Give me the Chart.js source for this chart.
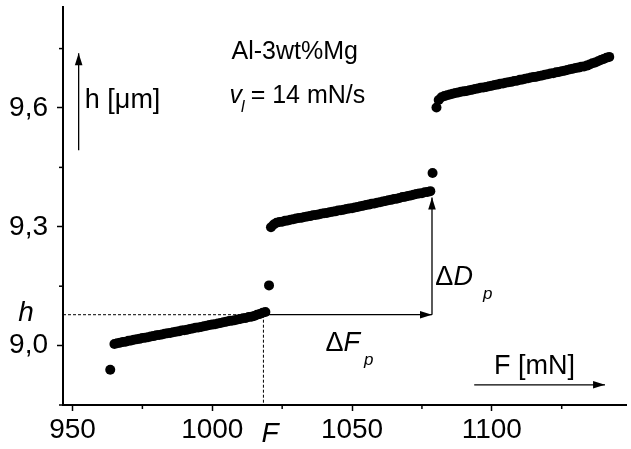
<!DOCTYPE html>
<html>
<head>
<meta charset="utf-8">
<script src="https://cdn.jsdelivr.net/npm/chart.js@4.4.1/dist/chart.umd.min.js"></script>
<style>
  html, body { margin: 0; padding: 0; background: #fff; }
  canvas { display: block; }
</style>
</head>
<body>
<canvas id="chart" width="631" height="449"></canvas>
<script>
// Pop-in steps of Al-3wt%Mg under constant loading rate: depth h [um] vs load F [mN].
// Three plateaus of dense points, plus the single transitional points between them.
var forceA = [965, 966, 967, 968, 969, 970, 971, 972, 973, 974, 975, 976, 977, 978, 979, 980,
  981, 982, 983, 984, 985, 986, 987, 988, 989, 990, 991, 992, 993, 994, 995, 996, 997, 998, 999,
  1000, 1001, 1002, 1003, 1004, 1005, 1006, 1007, 1008, 1009, 1010, 1011, 1012, 1013, 1014,
  1015, 1016, 1017, 1018, 1019];
var depthA = [9.004, 9.006, 9.007, 9.009, 9.010, 9.012, 9.013, 9.015, 9.016, 9.017, 9.019, 9.020,
  9.021, 9.023, 9.024, 9.026, 9.027, 9.028, 9.030, 9.031, 9.032, 9.034, 9.035, 9.036, 9.038,
  9.039, 9.040, 9.042, 9.043, 9.045, 9.046, 9.047, 9.049, 9.050, 9.052, 9.053, 9.054, 9.056,
  9.057, 9.059, 9.060, 9.062, 9.063, 9.064, 9.066, 9.067, 9.069, 9.070, 9.072, 9.073, 9.075,
  9.078, 9.080, 9.083, 9.085];

var forceB = [1021, 1022, 1023, 1024, 1025, 1026, 1027, 1028, 1029, 1030, 1031, 1032, 1033, 1034,
  1035, 1036, 1037, 1038, 1039, 1040, 1041, 1042, 1043, 1044, 1045, 1046, 1047, 1048, 1049, 1050,
  1051, 1052, 1053, 1054, 1055, 1056, 1057, 1058, 1059, 1060, 1061, 1062, 1063, 1064, 1065, 1066,
  1067, 1068, 1069, 1070, 1071, 1072, 1073, 1074, 1075, 1076, 1077, 1078];
var depthB = [9.299, 9.306, 9.310, 9.312, 9.313, 9.315, 9.316, 9.318, 9.319, 9.321, 9.322, 9.323,
  9.325, 9.326, 9.327, 9.329, 9.330, 9.331, 9.333, 9.334, 9.335, 9.337, 9.338, 9.339, 9.341,
  9.342, 9.343, 9.345, 9.346, 9.347, 9.349, 9.350, 9.352, 9.353, 9.355, 9.356, 9.358, 9.359,
  9.361, 9.362, 9.364, 9.365, 9.367, 9.368, 9.370, 9.371, 9.373, 9.375, 9.376, 9.378, 9.379,
  9.381, 9.383, 9.384, 9.385, 9.387, 9.388, 9.390];

var forceC = [1081, 1082, 1083, 1084, 1085, 1086, 1087, 1088, 1089, 1090, 1091, 1092, 1093, 1094,
  1095, 1096, 1097, 1098, 1099, 1100, 1101, 1102, 1103, 1104, 1105, 1106, 1107, 1108, 1109, 1110,
  1111, 1112, 1113, 1114, 1115, 1116, 1117, 1118, 1119, 1120, 1121, 1122, 1123, 1124, 1125, 1126,
  1127, 1128, 1129, 1130, 1131, 1132, 1133, 1134, 1135, 1136, 1137, 1138, 1139, 1140, 1141, 1142];
var depthC = [9.620, 9.627, 9.630, 9.632, 9.634, 9.636, 9.638, 9.639, 9.641, 9.642, 9.643, 9.645,
  9.646, 9.648, 9.649, 9.651, 9.652, 9.653, 9.655, 9.656, 9.658, 9.659, 9.661, 9.662, 9.664,
  9.665, 9.666, 9.668, 9.669, 9.671, 9.672, 9.674, 9.675, 9.677, 9.678, 9.679, 9.681, 9.682,
  9.684, 9.685, 9.687, 9.688, 9.690, 9.691, 9.693, 9.694, 9.696, 9.698, 9.699, 9.701, 9.702,
  9.704, 9.705, 9.707, 9.710, 9.713, 9.715, 9.718, 9.721, 9.724, 9.727, 9.729];

// lone points at the start and inside each pop-in
var forceLone = [963.5, 1020.3, 1078.8, 1080.2];
var depthLone = [8.939, 9.152, 9.436, 9.601];

// marked pop-in: level h at load F, then the step dF_p and dD_p
var hMark = 9.078, fMark = 1018.3, fStepEnd = 1078.6, hStepTop = 9.374;

var SANS = '"Liberation Sans", Arial, Helvetica, sans-serif';

function pts(fs, hs) { return fs.map(function (f, i) { return { x: f, y: hs[i] }; }); }
function dotSet(fs, hs) {
  return { data: pts(fs, hs), showLine: false, pointRadius: 5, pointHoverRadius: 5,
           backgroundColor: "#000", borderWidth: 0 };
}

// minor ticks, dashed guide lines, arrows and in-plot text
var marks = {
  id: "marks",
  afterDatasetsDraw: function (chart) {
    var c = chart.ctx, xs = chart.scales.x, ys = chart.scales.y;
    var X = function (v) { return xs.getPixelForValue(v); };
    var Y = function (v) { return ys.getPixelForValue(v); };
    function line(x1, y1, x2, y2) { c.beginPath(); c.moveTo(x1, y1); c.lineTo(x2, y2); c.stroke(); }
    function arrow(x1, y1, x2, y2) {
      line(x1, y1, x2, y2);
      var a = Math.atan2(y2 - y1, x2 - x1), L = 12, W = 3.8;
      c.beginPath(); c.moveTo(x2, y2);
      c.lineTo(x2 - L * Math.cos(a) + W * Math.sin(a), y2 - L * Math.sin(a) - W * Math.cos(a));
      c.lineTo(x2 - L * Math.cos(a) - W * Math.sin(a), y2 - L * Math.sin(a) + W * Math.cos(a));
      c.closePath(); c.fill();
    }
    function run(x, y, parts) {
      parts.forEach(function (p) {
        c.font = p[1]; c.fillText(p[0], x, y + (p[2] || 0)); x += c.measureText(p[0]).width + (p[3] || 0);
      });
    }
    c.save();
    c.strokeStyle = "#000"; c.fillStyle = "#000";
    c.lineWidth = 1.5;
    xs.ticks.forEach(function (t) { if (t.value % 50) line(X(t.value), xs.top, X(t.value), xs.top + 4); });
    ys.ticks.forEach(function (t) {
      if (Math.round(t.value * 100) % 30) line(ys.right - 4, Y(t.value), ys.right, Y(t.value));
    });
    c.lineWidth = 1;
    c.setLineDash([3, 2]);
    line(xs.left, Y(hMark), X(fMark), Y(hMark));
    line(X(fMark), Y(hMark), X(fMark), ys.bottom);
    c.setLineDash([]);
    c.lineWidth = 1.3;
    arrow(X(fMark), Y(hMark), X(fStepEnd), Y(hMark));
    arrow(X(fStepEnd), Y(hMark), X(fStepEnd), Y(hStepTop));
    arrow(X(952.2), Y(9.493), X(952.2), Y(9.738));
    arrow(X(1093.7), Y(8.901), X(1140.5), Y(8.901));

    c.textBaseline = "alphabetic"; c.textAlign = "left";
    var up = "25px " + SANS, it = "italic 25px " + SANS, sub = "italic 16px " + SANS;
    var big = "27px " + SANS, bigIt = "italic 27px " + SANS, bigSub = "italic 17px " + SANS;
    run(X(1006.9), Y(9.723), [["Al-3wt%Mg", up]]);
    run(X(1006.2), Y(9.612), [["v", it, 0, -1], ["l", sub, 9, 6], ["= 14 mN/s", up]]);
    run(X(954.4), Y(9.601), [["h [\u03bcm]", big]]);
    run(X(1079.8), Y(9.152), [["\u0394", big], ["D", bigIt, 0, 10], ["p", bigSub, 14]]);
    run(X(1040.5), Y(8.987), [["\u0394", big], ["F", bigIt, 0, 4], ["p", bigSub, 14]]);
    run(X(1100.8), Y(8.929), [["F [mN]", big]]);
    c.textAlign = "center";
    c.font = "italic 28px " + SANS;
    c.fillText("h", X(933.4), Y(9.063));
    c.fillText("F", X(1020.7), Y(8.757));
    c.restore();
  }
};

function noPad(s) { s.paddingTop = 0; s.paddingBottom = 0; s.paddingLeft = 0; s.paddingRight = 0; }

new Chart(document.getElementById("chart"), {
  type: "scatter",
  data: { datasets: [dotSet(forceA, depthA), dotSet(forceB, depthB), dotSet(forceC, depthC),
                     dotSet(forceLone, depthLone)] },
  options: {
    responsive: false, animation: false,
    layout: { padding: { top: 7, right: 0, bottom: 0, left: 0 } },
    plugins: { legend: { display: false }, tooltip: { enabled: false } },
    scales: {
      x: {
        type: "linear", min: 946.6, max: 1148,
        border: { color: "#000", width: 2 },
        grid: { drawOnChartArea: false, drawTicks: true, tickLength: 6, tickWidth: 1.5,
                tickColor: function (ctx) { return ctx.tick && ctx.tick.value % 50 ? "rgba(0,0,0,0)" : "#000"; } },
        ticks: { stepSize: 25, includeBounds: false, autoSkip: false, maxRotation: 0, padding: 2,
                 color: "#000", font: { family: SANS, size: 28 },
                 callback: function (v) { return v % 50 === 0 ? String(v) : ""; } },
        afterFit: function (s) { s.height = 44; noPad(s); }
      },
      y: {
        type: "linear", min: 8.85, max: 9.855,
        border: { color: "#000", width: 2 },
        grid: { drawOnChartArea: false, drawTicks: true, tickLength: 6, tickWidth: 1.5,
                tickColor: function (ctx) {
                  return ctx.tick && Math.round(ctx.tick.value * 100) % 30 ? "rgba(0,0,0,0)" : "#000"; } },
        ticks: { stepSize: 0.15, includeBounds: false, autoSkip: false, padding: 9,
                 color: "#000", font: { family: SANS, size: 28 },
                 callback: function (v) {
                   return Math.round(v * 100) % 30 === 0 ? v.toFixed(1).replace(".", ",") : ""; } },
        afterFit: function (s) { s.width = 63; noPad(s); }
      }
    }
  },
  plugins: [marks]
});
</script>
</body>
</html>
